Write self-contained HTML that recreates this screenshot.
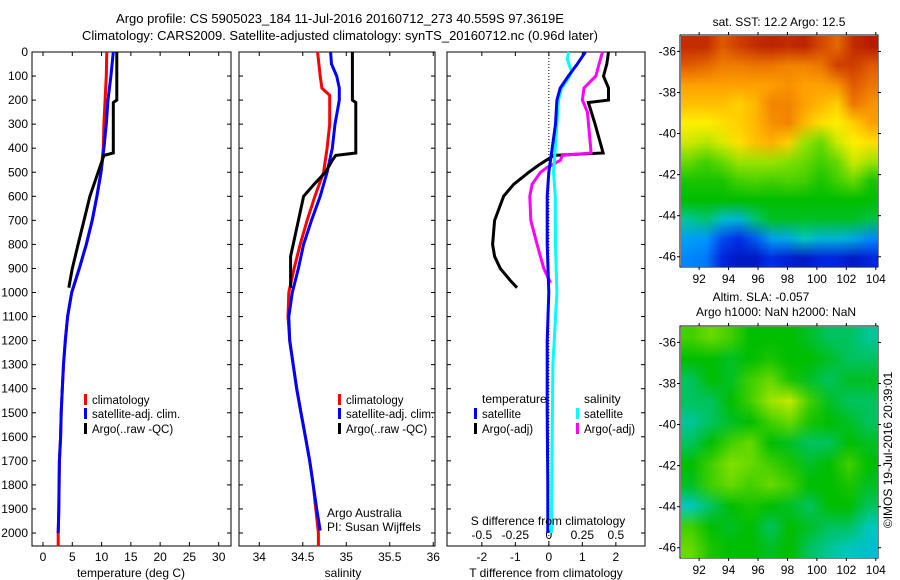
<!DOCTYPE html>
<html><head><meta charset="utf-8">
<style>
body{margin:0;background:#fff;}
svg{display:block;font-family:"Liberation Sans",sans-serif;}
canvas{position:absolute;}
</style></head>
<body>
<div style="position:relative;width:900px;height:580px;">
<svg id="fig" width="900" height="580"></svg>
<canvas id="sst" width="197" height="231" style="left:681px;top:36px;"></canvas>
<canvas id="sla" width="197" height="231" style="left:681px;top:327px;"></canvas>
</div>
<script>
// ---- data ----
const tempClimDepth=[0,100,200,300,400,500,600,700,800,900,1000,1100,1200,1300,1400,1500,1600,1700,1800,1900,2000,2054];
const tempClim=[10.9,10.8,10.6,10.4,10.3,9.9,9.2,8.4,7.4,6.2,4.9,4.2,3.8,3.5,3.3,3.1,3.0,2.8,2.75,2.7,2.6,2.6];
const tempSatDepth=[0,100,200,300,400,500,600,700,800,900,1000,1100,1200,1300,1400,1500,1600,1700,1800,1900,2000];
const tempSat=[12.0,11.6,11.1,10.8,10.4,9.9,9.2,8.4,7.4,6.2,4.9,4.2,3.8,3.5,3.3,3.1,3.0,2.8,2.75,2.7,2.6];
const tempArgoDepth=[0,200,210,420,430,500,600,700,800,900,980];
const tempArgo=[12.6,12.6,12.0,12.0,10.4,9.4,8.0,7.0,6.0,5.0,4.4];
const salClimDepth=[0,100,150,180,300,400,500,600,700,800,900,1000,1100,1200,1300,1400,1500,1600,1700,1800,1900,2000,2054];
const salClim=[34.67,34.70,34.72,34.81,34.81,34.78,34.74,34.64,34.55,34.47,34.40,34.34,34.33,34.35,34.39,34.43,34.48,34.53,34.58,34.62,34.65,34.68,34.68];
const salSatDepth=[0,50,100,150,200,300,400,500,600,700,800,900,1000,1100,1200,1300,1400,1500,1600,1700,1800,1900,1990];
const salSat=[34.82,34.83,34.89,34.92,34.92,34.87,34.84,34.78,34.70,34.60,34.51,34.45,34.38,34.34,34.35,34.39,34.43,34.48,34.53,34.58,34.62,34.66,34.70];
const salArgoDepth=[0,200,210,420,430,450,500,550,600,700,800,850,980];
const salArgo=[35.07,35.07,35.11,35.11,34.88,34.84,34.76,34.63,34.51,34.45,34.39,34.36,34.36];
const dTSatDepth=[0,50,100,150,200,300,400,500,600,800,1000,1200,1500,1800,2000];
const dTSat=[1.09,0.85,0.58,0.34,0.24,0.2,0.1,0.0,-0.05,-0.05,0.0,-0.05,-0.05,-0.03,-0.03];
const dSSatDepth=[0,30,60,80,110,150,200,300,400,500,600,800,1000,1300,1600,2000];
const dSSat=[0.148,0.138,0.155,0.172,0.145,0.095,0.072,0.06,0.048,0.035,0.048,0.05,0.06,0.03,0.025,0.02];
const dSArgoDepth=[0,50,100,150,200,250,400,420,430,450,480,500,550,600,700,800,900,960];
const dSArgo=[0.40,0.375,0.35,0.262,0.25,0.288,0.312,0.315,0.10,0.088,-0.012,-0.062,-0.125,-0.142,-0.135,-0.088,-0.038,0.012];
const dTArgoDepth=[0,50,100,150,200,210,300,400,420,430,470,500,550,600,700,800,850,900,950,980];
const dTArgo=[1.78,1.73,1.63,1.78,1.78,1.18,1.38,1.58,1.62,0.15,-0.3,-0.6,-1.05,-1.35,-1.62,-1.68,-1.62,-1.45,-1.15,-0.95];
const depthTicks=[0,100,200,300,400,500,600,700,800,900,1000,1100,1200,1300,1400,1500,1600,1700,1800,1900,2000];
const tempTicks=[0,5,10,15,20,25,30];
const salTicks=[34,34.5,35,35.5,36];
const salTickLabels=["34","34.5","35","35.5","36"];
const dTTicks=[-2,-1,0,1,2];
const dSTicks=[-0.5,-0.25,0,0.25,0.5];
const dSTickLabels=["-0.5","-0.25","0","0.25","0.5"];
const latTicks=[-36,-38,-40,-42,-44,-46];
const lonTicks=[92,94,96,98,100,102,104];
const sstGrid=[
[.95,.95,.9,.93,.95,.96,.95,.96,.92,.88,.95,.97],
[.9,.88,.85,.85,.86,.86,.84,.84,.86,.93,.93,.9],
[.8,.8,.8,.8,.8,.8,.82,.8,.8,.82,.9,.86],
[.76,.76,.76,.74,.77,.84,.84,.8,.77,.74,.86,.82],
[.7,.7,.72,.74,.77,.82,.84,.77,.72,.7,.74,.8],
[.66,.64,.67,.72,.76,.78,.74,.62,.58,.66,.7,.72],
[.58,.55,.58,.62,.62,.62,.6,.58,.55,.58,.66,.62],
[.52,.52,.52,.55,.56,.55,.56,.55,.52,.55,.58,.52],
[.5,.5,.5,.5,.5,.5,.5,.5,.5,.5,.5,.5],
[.42,.44,.38,.36,.44,.48,.48,.48,.48,.48,.48,.46],
[.32,.3,.2,.16,.22,.32,.34,.4,.36,.36,.34,.28],
[.28,.26,.14,.1,.1,.16,.12,.1,.14,.14,.1,.14]];
const slaGrid=[
[.55,.58,.55,.5,.5,.5,.48,.45,.45,.42],
[.5,.5,.48,.5,.52,.5,.5,.48,.45,.45],
[.45,.5,.48,.55,.58,.52,.48,.45,.48,.48],
[.45,.45,.5,.55,.62,.65,.55,.48,.45,.45],
[.42,.45,.48,.5,.55,.58,.52,.5,.48,.45],
[.45,.5,.55,.58,.5,.48,.45,.45,.5,.48],
[.5,.55,.6,.58,.55,.52,.48,.5,.55,.5],
[.48,.55,.58,.55,.58,.55,.5,.5,.52,.48],
[.4,.45,.5,.52,.5,.48,.45,.5,.5,.45],
[.55,.5,.48,.5,.45,.5,.48,.45,.45,.4],
[.58,.52,.5,.5,.48,.5,.45,.42,.4,.38]];

// ---- drawing ----
const NS="http://www.w3.org/2000/svg";
const svg=document.getElementById('fig');
function mk(tag,attrs,parent){const e=document.createElementNS(NS,tag);for(const k in attrs)e.setAttribute(k,attrs[k]);(parent||svg).appendChild(e);return e;}
function txt(x,y,s,anchor,parent,size){const t=mk('text',{x:x,y:y,'font-size':size||12,'text-anchor':anchor||'start',fill:'#000'},parent);t.textContent=s;return t;}
const yTop=52,yBot=546,dMax=2054;
const yD=d=>yTop+d*(yBot-yTop)/dMax;
function panel(name,x0,x1,vmin,vmax){
  const g=mk('g',{});
  
  
  const b=mk('rect',{x:x0,y:yTop,width:x1-x0,height:yBot-yTop,fill:'none',stroke:'#000','stroke-width':1},g);
  
  
  return {g:g,x:v=>x0+(v-vmin)*(x1-x0)/(vmax-vmin),x0:x0,x1:x1};
}
function line(p,name,vals,depths,color,scale){
  const pts=vals.map((v,i)=>p.x(v*(scale||1)).toFixed(1)+','+yD(depths[i]).toFixed(1)).join(' ');
  const l=mk('polyline',{points:pts,fill:'none',stroke:color,'stroke-width':3,'stroke-linejoin':'miter'},p.g);
  
  
}
function depthTicksOn(p,side,labels){
  depthTicks.forEach(d=>{const y=yD(d);
    mk('line',{x1:p.x0,x2:p.x0+4,y1:y,y2:y,stroke:'#000'},p.g);
    mk('line',{x1:p.x1,x2:p.x1-4,y1:y,y2:y,stroke:'#000'},p.g);
    if(labels)txt(p.x0-4,y+4,String(d),'end',p.g);});
}
function xTicks(p,ticks,labels){
  ticks.forEach((t,i)=>{const x=p.x(t);
    mk('line',{x1:x,x2:x,y1:yBot,y2:yBot-4,stroke:'#000'},p.g);
    mk('line',{x1:x,x2:x,y1:yTop,y2:yTop+4,stroke:'#000'},p.g);
    txt(x,561,labels[i],'middle',p.g);});
}
function legendEntry(p,x,y,color,label,name){
  const r=mk('rect',{x:x,y:y-10,width:3,height:11,fill:color},p.g);
  
  
  const t=txt(x+8,y,label,'start',p.g,11.5);
  
  
}
// titles
let t1=txt(340,23,'Argo profile: CS 5905023_184 11-Jul-2016 20160712_273 40.559S 97.3619E','middle',svg,13);

let t2=txt(340,40,'Climatology: CARS2009. Satellite-adjusted climatology: synTS_20160712.nc (0.96d later)','middle',svg,13);


// panel 1 temperature
const p1=panel('temperature-panel',32,231,-1.88,32.1);
depthTicksOn(p1,'l',true);
xTicks(p1,tempTicks,tempTicks.map(String));
line(p1,'temp-climatology',tempClim,tempClimDepth,'#f00');
line(p1,'temp-satellite-adj',tempSat,tempSatDepth,'#00f');
line(p1,'temp-argo',tempArgo,tempArgoDepth,'#000');
legendEntry(p1,84,404,'#f00','climatology','legend-climatology');
legendEntry(p1,84,418,'#00f','satellite-adj. clim.','legend-satellite-adj');
legendEntry(p1,84,433,'#000','Argo(..raw -QC)','legend-argo');
let xl=txt(131,577,'temperature (deg C)','middle');

// panel 2 salinity
const p2=panel('salinity-panel',239,435,33.767,36.02);
depthTicksOn(p2,'l',false);
xTicks(p2,salTicks,salTickLabels);
line(p2,'sal-climatology',salClim,salClimDepth,'#f00');
line(p2,'sal-satellite-adj',salSat,salSatDepth,'#00f');
line(p2,'sal-argo',salArgo,salArgoDepth,'#000');
legendEntry(p2,338,404,'#f00','climatology','legend-sal-climatology');
legendEntry(p2,338,418,'#00f','satellite-adj. clim.','legend-sal-satellite-adj');
legendEntry(p2,338,433,'#000','Argo(..raw -QC)','legend-sal-argo');
let a1=txt(327,517,'Argo Australia','start',p2.g);
let a2=txt(327,531,'PI: Susan Wijffels','start',p2.g);
let xl2=txt(343,577,'salinity','middle');

// panel 3 differences
const p3=panel('difference-panel',447,645,-3.04,2.87);
depthTicksOn(p3,'r',false);
xTicks(p3,dTTicks,dTTicks.map(String));
dSTicks.forEach((s,i)=>{const x=p3.x(s*4);txt(x,539,dSTickLabels[i],'middle',p3.g);});
mk('line',{x1:p3.x(0),x2:p3.x(0),y1:yTop,y2:yBot,stroke:'#000','stroke-dasharray':'1,2'},p3.g);
line(p3,'dT-argo',dTArgo,dTArgoDepth,'#000');
line(p3,'dS-argo',dSArgo,dSArgoDepth,'#f0f',4);
line(p3,'dS-satellite',dSSat,dSSatDepth,'#0ff',4);
line(p3,'dT-satellite',dTSat,dTSatDepth,'#00f');
txt(482,403,'temperature','start',p3.g);
txt(584,403,'salinity','start',p3.g);
legendEntry(p3,474,418,'#00f','satellite','legend-dT-satellite');
legendEntry(p3,474,433,'#000','Argo(-adj)','legend-dT-argo');
legendEntry(p3,576,418,'#0ff','satellite','legend-dS-satellite');
legendEntry(p3,576,433,'#f0f','Argo(-adj)','legend-dS-argo');
let sl=txt(548,525,'S difference from climatology','middle',p3.g);
let xl3=txt(546,577,'T difference from climatology','middle');

// maps
const cmapStops=[0,0.15,0.3,0.4,0.5,0.6,0.7,0.8,0.9,1.0];
const cmapColors=[[0,0,128],[0,40,230],[0,150,255],[0,200,190],[0,190,0],[130,225,0],[255,240,0],[255,160,0],[225,90,0],[165,0,0]];
function cmap(v){v=Math.max(0,Math.min(1,v));let i=0;while(i<cmapStops.length-2&&v>cmapStops[i+1])i++;
  const f=(v-cmapStops[i])/(cmapStops[i+1]-cmapStops[i]);return cmapColors[i].map((c,k)=>Math.round(c+(cmapColors[i+1][k]-c)*f));}
function drawMap(id,grid){
  const cv=document.getElementById(id),ctx=cv.getContext('2d');
  const rows=grid.length,cols=grid[0].length;
  const off=document.createElement('canvas');off.width=cols;off.height=rows;
  const oc=off.getContext('2d');const im=oc.createImageData(cols,rows);
  grid.forEach((r,i)=>r.forEach((v,j)=>{const c=cmap(v),k=(i*cols+j)*4;im.data[k]=c[0];im.data[k+1]=c[1];im.data[k+2]=c[2];im.data[k+3]=255;}));
  oc.putImageData(im,0,0);
  ctx.imageSmoothingEnabled=true;ctx.drawImage(off,0,0,cv.width,cv.height);
}
drawMap('sst',sstGrid);drawMap('sla',slaGrid);
function mapAxes(name,top){
  const g=mk('g',{});
  const x0=680,x1=878,h=232;
  const lat=v=>top+(-35.2-v)*h/11.3, lon=v=>x0+(v-90.7)*(x1-x0)/13.45;
  mk('rect',{x:x0,y:top,width:x1-x0,height:h,fill:'none',stroke:'#000'},g);
  latTicks.forEach(v=>{const y=lat(v);mk('line',{x1:x0-3,x2:x0,y1:y,y2:y,stroke:'#000'},g);mk('line',{x1:x1,x2:x1+3,y1:y,y2:y,stroke:'#000'},g);txt(x0-4,y+4,String(v),'end',g);});
  lonTicks.forEach(v=>{const x=lon(v);mk('line',{x1:x,x2:x,y1:top+h,y2:top+h+3,stroke:'#000'},g);mk('line',{x1:x,x2:x,y1:top-3,y2:top,stroke:'#000'},g);txt(x,top+h+16,String(v),'middle',g);});
}
mapAxes('sst-map-axes',35);
mapAxes('sla-map-axes',326);
let m1=txt(779,26,'sat. SST: 12.2 Argo: 12.5','middle');
let m2=txt(761,301,'Altim. SLA: -0.057','middle');
let m3=txt(776,316,'Argo h1000: NaN h2000: NaN','middle');
let cp=txt(0,0,'©IMOS 19-Jul-2016 20:39:01','middle');cp.setAttribute('transform','translate(892,450) rotate(-90)');

</script>
</body></html>
